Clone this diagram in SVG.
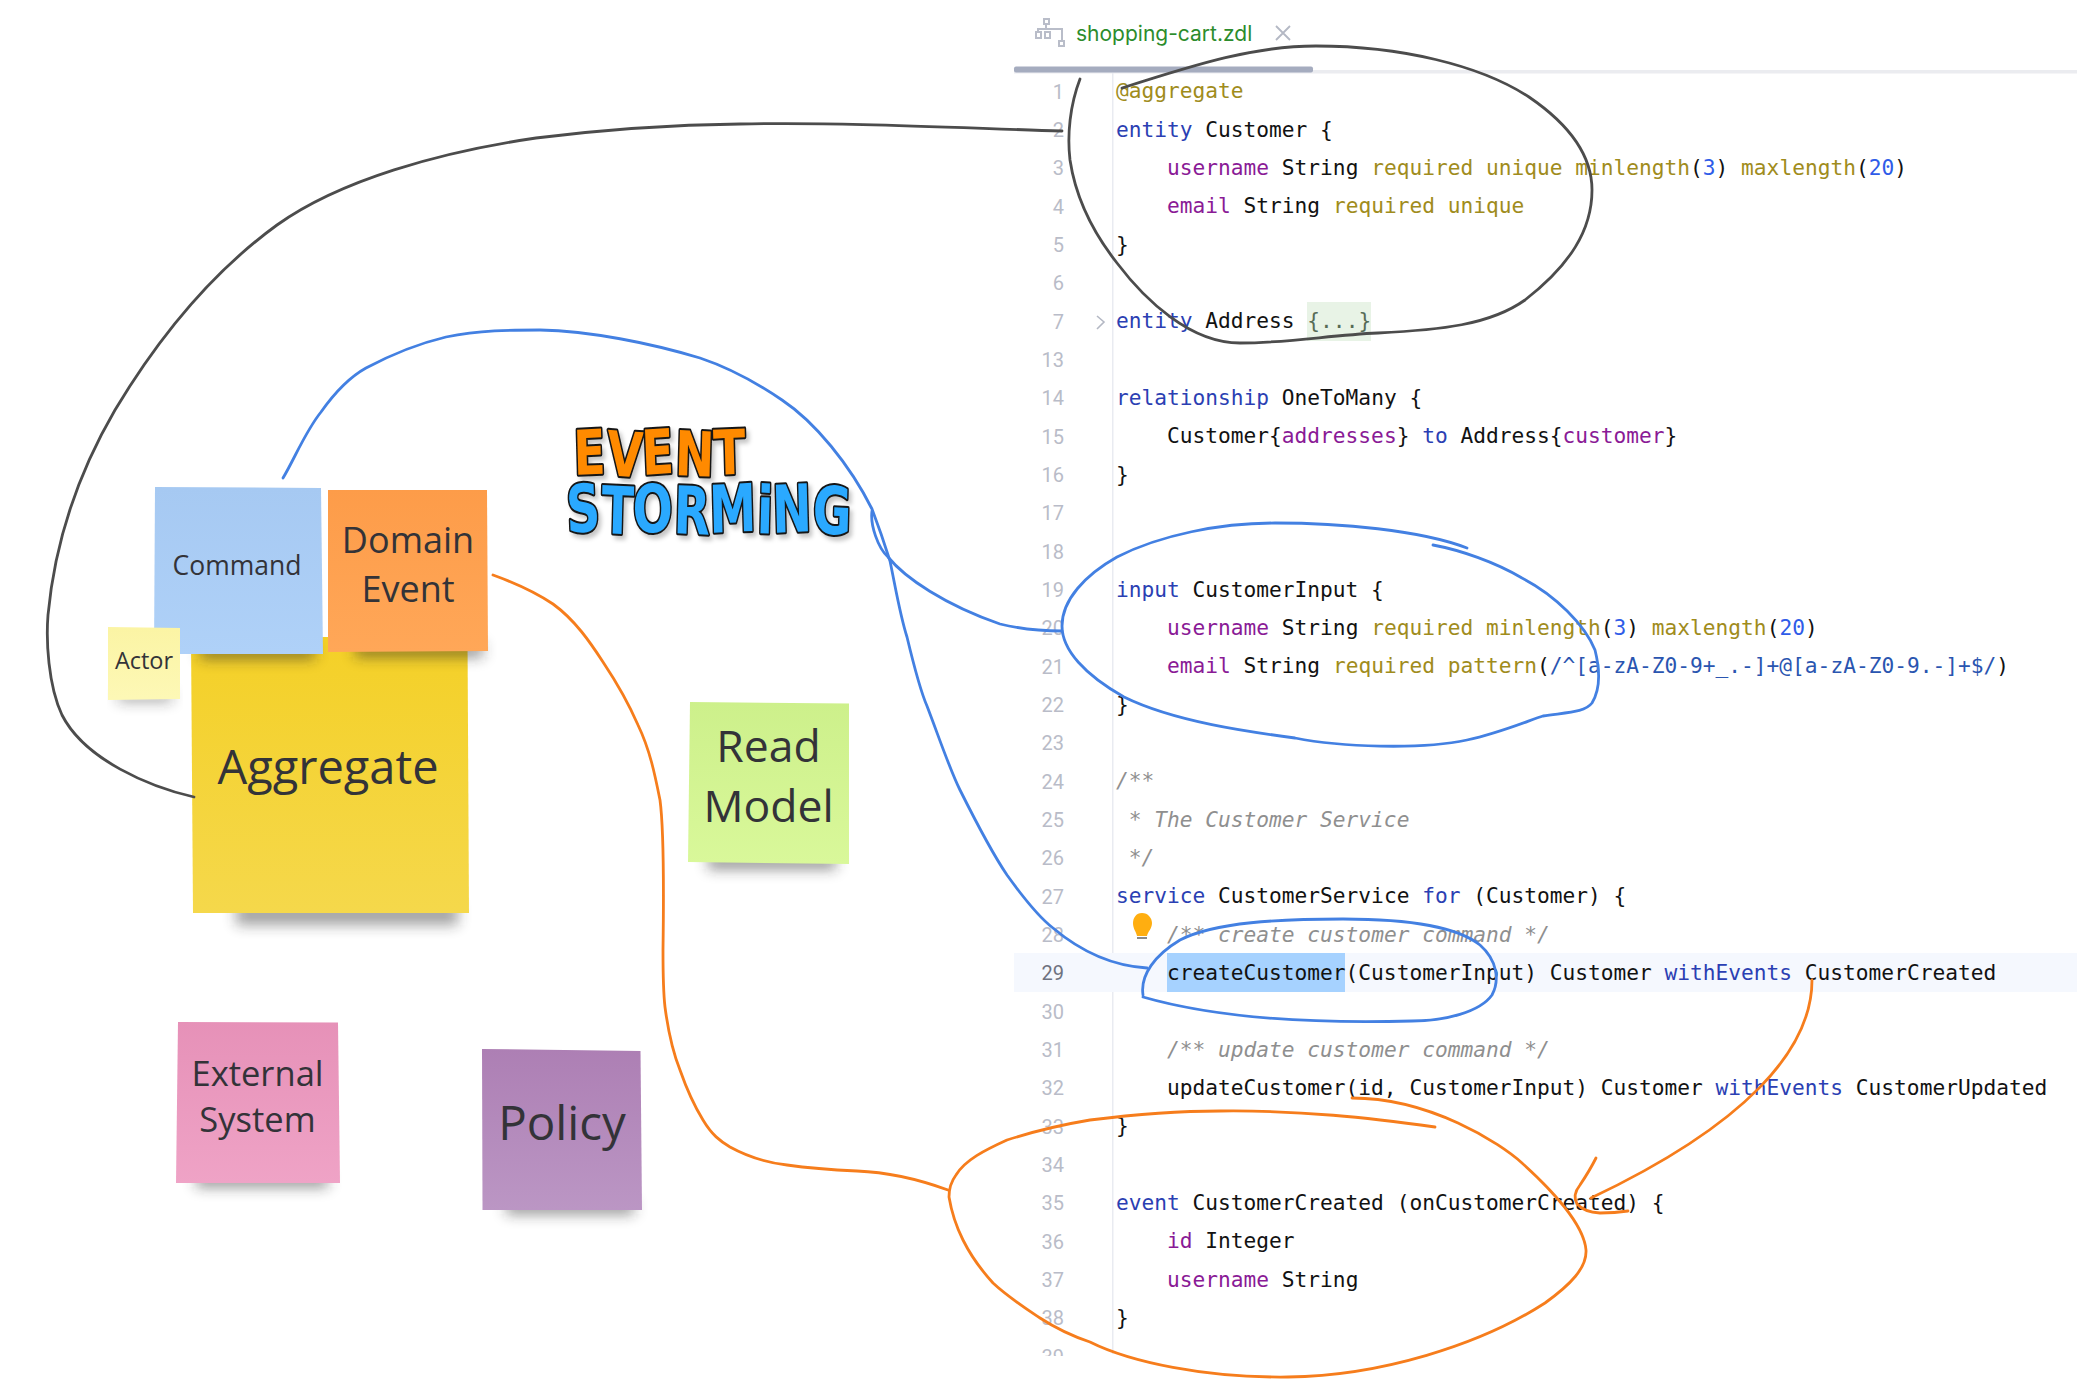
<svg xmlns="http://www.w3.org/2000/svg" width="2077" height="1385" viewBox="0 0 2077 1385">
<style>
.code{font-family:"DejaVu Sans Mono","Liberation Mono",monospace;font-size:21.2px;fill:#121212;white-space:pre}
.k{fill:#2b3fb3}.p{fill:#8a1a96}.a{fill:#a08c1c}.n{fill:#2f5ce8}.c{fill:#8f8f8f;font-style:italic}.r{fill:#2a55b0}.f{fill:#566b56}
.ln{font-family:Roboto,"DejaVu Sans Mono",sans-serif;font-size:20px;fill:#b9bcc8;text-anchor:end}
.st{font-family:"Open Sans","Noto Sans",sans-serif;fill:#333338;text-anchor:middle}
.logo{font-family:"DejaVu Sans",sans-serif;font-weight:bold;stroke:#141414;stroke-width:4px;stroke-linejoin:round;paint-order:stroke}
.wire{fill:none;stroke-linecap:round;stroke-linejoin:round;stroke-width:2.8px}
.bk{stroke:#4c4c4c}.bl{stroke:#4380e2}.or{stroke:#f67d1c}
.sh{fill:#222;opacity:.5}
</style>
<defs>
<filter id="blur" x="-20%" y="-120%" width="140%" height="440%"><feGaussianBlur stdDeviation="7"/></filter>
<filter id="lshadow" x="-5%" y="-5%" width="115%" height="120%"><feDropShadow dx="3" dy="4" stdDeviation="2" flood-color="#000" flood-opacity=".22"/></filter>
<clipPath id="codeClip"><rect x="0" y="0" width="2077" height="1356"/></clipPath>
<linearGradient id="gCmd" x1="0" y1="0" x2="0" y2="1"><stop offset="0" stop-color="#a6c9f2"/><stop offset="1" stop-color="#afd1f8"/></linearGradient>
<linearGradient id="gDom" x1="0" y1="0" x2="0" y2="1"><stop offset="0" stop-color="#fd9c49"/><stop offset="1" stop-color="#ffa758"/></linearGradient>
<linearGradient id="gAct" x1="0" y1="0" x2="0" y2="1"><stop offset="0" stop-color="#fbf4a4"/><stop offset="1" stop-color="#fdf8b6"/></linearGradient>
<linearGradient id="gAgg" x1="0" y1="0" x2="0" y2="1"><stop offset="0" stop-color="#f4d027"/><stop offset="1" stop-color="#f5d84b"/></linearGradient>
<linearGradient id="gRead" x1="0" y1="0" x2="0" y2="1"><stop offset="0" stop-color="#cdf08b"/><stop offset="1" stop-color="#d9f89a"/></linearGradient>
<linearGradient id="gExt" x1="0" y1="0" x2="0" y2="1"><stop offset="0" stop-color="#e691b8"/><stop offset="1" stop-color="#efa3c6"/></linearGradient>
<linearGradient id="gPol" x1="0" y1="0" x2="0" y2="1"><stop offset="0" stop-color="#ad7fb4"/><stop offset="1" stop-color="#bb96c4"/></linearGradient>
</defs>
<rect width="2077" height="1385" fill="#fff"/>

<g id="editor">
<rect x="1014" y="70" width="1063" height="3.5" fill="#ebecf0"/>
<rect x="1014" y="66.5" width="299" height="6" rx="2" fill="#a5acbf"/>
<g id="tab-icon" fill="none" stroke="#b9bdc9" stroke-width="2"><rect x="1044" y="19" width="5" height="5"/><rect x="1036" y="32" width="5" height="6"/><rect x="1045" y="32" width="5" height="6"/><rect x="1059" y="41" width="5" height="5"/><path d="M1046 24V29M1038 32V29H1062V41"/></g>
<text x="1076" y="40.500" font-family="Inter,'Noto Sans',sans-serif" font-size="21" fill="#2c8c2c">shopping-cart.zdl</text>
<path d="M1276 26L1290 40M1290 26L1276 40" stroke="#b4b8c4" stroke-width="1.8" fill="none"/>
<rect x="1112" y="73" width="1.500" height="1281" fill="#e9ebf1"/>
<rect x="1014" y="953" width="1063" height="39" fill="#f5f8fe"/>
<rect x="1167" y="953" width="178" height="39" fill="#a6d2ff"/>
<rect x="1307" y="302" width="64" height="39" fill="#e8f3e6"/>
<path d="M1097 316L1104 322L1097 329" fill="none" stroke="#b4b8c4" stroke-width="1.6"/>
<g id="bulb"><path d="M1142 913C1148 913 1152 918 1152 923C1152 929 1148 931 1147 936H1137C1136 931 1133 929 1133 923C1133 918 1136 913 1142 913Z" fill="#ffae10"/><rect x="1137" y="937" width="10" height="2" fill="#8a8a8a"/></g>
<g clip-path="url(#codeClip)">
<g id="line-numbers">
<text class="ln" x="1064" y="98.500">1</text><text class="ln" x="1064" y="136.800">2</text><text class="ln" x="1064" y="175.200">3</text><text class="ln" x="1064" y="213.500">4</text><text class="ln" x="1064" y="251.800">5</text><text class="ln" x="1064" y="290.200">6</text><text class="ln" x="1064" y="328.500">7</text><text class="ln" x="1064" y="366.800">13</text><text class="ln" x="1064" y="405.200">14</text><text class="ln" x="1064" y="443.500">15</text><text class="ln" x="1064" y="481.800">16</text><text class="ln" x="1064" y="520.100">17</text><text class="ln" x="1064" y="558.500">18</text><text class="ln" x="1064" y="596.800">19</text><text class="ln" x="1064" y="635.100">20</text><text class="ln" x="1064" y="673.500">21</text><text class="ln" x="1064" y="711.800">22</text><text class="ln" x="1064" y="750.100">23</text><text class="ln" x="1064" y="788.500">24</text><text class="ln" x="1064" y="826.800">25</text><text class="ln" x="1064" y="865.100">26</text><text class="ln" x="1064" y="903.500">27</text><text class="ln" x="1064" y="941.800">28</text><text class="ln" x="1064" y="980.100" style="fill:#6e7280">29</text><text class="ln" x="1064" y="1018.500">30</text><text class="ln" x="1064" y="1056.800">31</text><text class="ln" x="1064" y="1095.100">32</text><text class="ln" x="1064" y="1133.500">33</text><text class="ln" x="1064" y="1171.800">34</text><text class="ln" x="1064" y="1210.100">35</text><text class="ln" x="1064" y="1248.500">36</text><text class="ln" x="1064" y="1286.800">37</text><text class="ln" x="1064" y="1325.100">38</text><text class="ln" x="1064" y="1363.500">39</text>
</g>
</g>
<g id="code" transform="translate(0 -0.700)">
<text class="code" x="1116" y="99"><tspan class="a">@aggregate</tspan></text>
<text class="code" x="1116" y="137.300"><tspan class="k">entity</tspan> Customer {</text>
<text class="code" x="1116" y="175.700">    <tspan class="p">username</tspan> String <tspan class="a">required unique minlength</tspan>(<tspan class="n">3</tspan>) <tspan class="a">maxlength</tspan>(<tspan class="n">20</tspan>)</text>
<text class="code" x="1116" y="214">    <tspan class="p">email</tspan> String <tspan class="a">required unique</tspan></text>
<text class="code" x="1116" y="252.300">}</text>
<text class="code" x="1116" y="329"><tspan class="k">entity</tspan> Address <tspan class="f">{...}</tspan></text>
<text class="code" x="1116" y="405.700"><tspan class="k">relationship</tspan> OneToMany {</text>
<text class="code" x="1116" y="444">    Customer{<tspan class="p">addresses</tspan>} <tspan class="k">to</tspan> Address{<tspan class="p">customer</tspan>}</text>
<text class="code" x="1116" y="482.300">}</text>
<text class="code" x="1116" y="597.300"><tspan class="k">input</tspan> CustomerInput {</text>
<text class="code" x="1116" y="635.600">    <tspan class="p">username</tspan> String <tspan class="a">required minlength</tspan>(<tspan class="n">3</tspan>) <tspan class="a">maxlength</tspan>(<tspan class="n">20</tspan>)</text>
<text class="code" x="1116" y="674">    <tspan class="p">email</tspan> String <tspan class="a">required pattern</tspan>(<tspan class="r">/^[a-zA-Z0-9+_.-]+@[a-zA-Z0-9.-]+$/</tspan>)</text>
<text class="code" x="1116" y="712.300">}</text>
<text class="code" x="1116" y="789"><tspan class="c">/**</tspan></text>
<text class="code" x="1116" y="827.300"><tspan class="c"> * The Customer Service</tspan></text>
<text class="code" x="1116" y="865.600"><tspan class="c"> */</tspan></text>
<text class="code" x="1116" y="904"><tspan class="k">service</tspan> CustomerService <tspan class="k">for</tspan> (Customer) {</text>
<text class="code" x="1116" y="942.300">    <tspan class="c">/** create customer command */</tspan></text>
<text class="code" x="1116" y="980.600">    createCustomer(CustomerInput) Customer <tspan class="k">withEvents</tspan> CustomerCreated</text>
<text class="code" x="1116" y="1057.300">    <tspan class="c">/** update customer command */</tspan></text>
<text class="code" x="1116" y="1095.600">    updateCustomer(id, CustomerInput) Customer <tspan class="k">withEvents</tspan> CustomerUpdated</text>
<text class="code" x="1116" y="1134">}</text>
<text class="code" x="1116" y="1210.600"><tspan class="k">event</tspan> CustomerCreated (onCustomerCreated) {</text>
<text class="code" x="1116" y="1249">    <tspan class="p">id</tspan> Integer</text>
<text class="code" x="1116" y="1287.300">    <tspan class="p">username</tspan> String</text>
<text class="code" x="1116" y="1325.600">}</text>
</g>
</g>

<g id="aggregate">
<rect class="sh" x="236" y="903" width="222" height="22" filter="url(#blur)" style="opacity:.42"/>
<path d="M191 637H467.500L469 913H193Z" fill="url(#gAgg)"/>
<text class="st" x="328" y="784" font-size="47">Aggregate</text>
</g>
<g id="command">
<rect class="sh" x="200" y="645" width="115" height="14" filter="url(#blur)"/>
<path d="M155 487L321 488L323 654H154Z" fill="url(#gCmd)"/>
<text class="st" x="237" y="575" font-size="26.500">Command</text>
</g>
<g id="domain-event">
<rect class="sh" x="355" y="643" width="128" height="14" filter="url(#blur)"/>
<path d="M328 490H487L488 651L328 652Z" fill="url(#gDom)"/>
<text class="st" x="408" y="553" font-size="36">Domain</text>
<text class="st" x="408" y="602" font-size="36">Event</text>
</g>
<g id="actor">
<rect class="sh" x="118" y="693" width="54" height="8" filter="url(#blur)"/>
<path d="M108 627L180 628L180 699L108 700Z" fill="url(#gAct)"/>
<text class="st" x="144" y="668.500" font-size="23.500">Actor</text>
</g>
<g id="read-model">
<rect class="sh" x="708" y="855" width="128" height="14" filter="url(#blur)"/>
<path d="M690 702L849 703.500L849 864L688 862Z" fill="url(#gRead)"/>
<text class="st" x="768.500" y="762" font-size="44.500">Read</text>
<text class="st" x="768.500" y="822" font-size="44.500">Model</text>
</g>
<g id="external-system">
<rect class="sh" x="196" y="1174" width="132" height="13" filter="url(#blur)"/>
<path d="M178 1022L338 1022.500L340 1183H176Z" fill="url(#gExt)"/>
<text class="st" x="257.500" y="1086" font-size="34.500">External</text>
<text class="st" x="257.500" y="1132" font-size="34.500">System</text>
</g>
<g id="policy">
<rect class="sh" x="506" y="1201" width="128" height="13" filter="url(#blur)"/>
<path d="M482 1049L640.500 1051L642 1210H482.500Z" fill="url(#gPol)"/>
<text class="st" x="562" y="1140" font-size="47.500">Policy</text>
</g>
<g id="event-storming-logo" filter="url(#lshadow)">
<text class="logo" x="574" y="475" font-size="62" fill="#ff8a00" textLength="172" lengthAdjust="spacingAndGlyphs" rotate="-2 3 -3 2 -2">EVENT</text>
<text class="logo" x="567" y="533" font-size="66" fill="#2aa9ff" textLength="284" lengthAdjust="spacingAndGlyphs" rotate="-3 2 -2 2 -2 2 -2 2">STORMiNG</text>
</g>

<g id="connectors">
<path class="wire bk" d="M194 797C150 787 85 760 62 715C48 685 46 640 48 615C55 540 80 470 115 410C160 335 215 270 277 225C340 180 440 152 536 138C600 130 660 125 740 124C850 122 960 128 1062 131"/>
<path class="wire bk" d="M1080 79C1070 105 1067 135 1070 160C1076 200 1095 235 1117 263C1145 300 1190 343 1240 343C1290 343 1330 335 1378 333C1440 330 1490 325 1525 300C1570 265 1592 230 1592 190C1592 155 1570 125 1529 97C1480 65 1400 46 1316 46C1255 46 1200 63 1122 88"/>
<path class="wire bl" d="M283 478C295 458 305 432 321 412C333 395 348 378 366 368C400 350 425 342 446 337C480 330 510 330 540 330C590 331 650 343 700 358C730 368 760 385 782 400C815 422 850 465 872 509C880 530 885 545 890 561C896 590 900 615 907 637C913 662 920 690 927 706C940 740 950 770 960 790C975 820 990 850 1007 875C1025 900 1040 918 1053 928C1085 955 1115 966 1147 968"/>
<path class="wire bl" d="M872 511C870 525 878 548 888 557C905 578 945 605 1000 624C1025 630 1045 631 1062 631"/>
<path class="wire bl" d="M1467 548C1420 530 1340 523 1275 523C1220 523 1160 535 1117 557C1085 575 1062 600 1062 626C1062 650 1085 675 1124 697C1175 722 1250 732 1295 738C1340 747 1420 750 1467 740C1500 733 1530 720 1543 716C1570 712 1585 712 1592 703C1600 690 1600 670 1595 650C1585 625 1555 595 1522 578C1495 562 1460 550 1433 545"/>
<path class="wire bl" d="M1143 995C1140 975 1155 955 1180 940C1215 922 1280 919 1343 919C1400 919 1455 925 1480 945C1497 960 1500 980 1492 995C1480 1012 1445 1021 1412 1021C1340 1023 1230 1022 1143 997"/>
<path class="wire or" d="M493 575C515 583 535 592 553 604C575 620 590 642 603 662C615 680 628 702 638 725C650 750 655 775 660 800C664 830 664 880 663 950C663 970 663 990 665 1007C668 1030 672 1050 680 1070C687 1090 695 1107 703 1120C712 1135 720 1141 730 1147C750 1158 770 1163 787 1165C815 1169 835 1170 857 1171C885 1172 915 1178 948 1190"/>
<path class="wire or" d="M1435 1127C1370 1118 1300 1110 1220 1111C1180 1111 1130 1115 1090 1120C1060 1125 1035 1131 1007 1140C985 1150 965 1160 956 1175C950 1183 949 1190 949 1197C952 1215 958 1230 963 1240C972 1258 983 1272 993 1283C1008 1297 1025 1308 1040 1318C1057 1329 1072 1336 1090 1342C1130 1362 1205 1378 1288 1377C1380 1376 1480 1345 1545 1303C1570 1285 1587 1268 1586 1250C1584 1225 1552 1190 1522 1163C1500 1143 1430 1098 1352 1098"/>
<path class="wire or" d="M1812 980C1812 1050 1745 1125 1591 1198"/>
<path class="wire or" d="M1596 1158Q1590 1170 1580 1185Q1572 1195 1577 1204Q1584 1212 1600 1213Q1615 1213 1628 1211"/>
</g>
</svg>
